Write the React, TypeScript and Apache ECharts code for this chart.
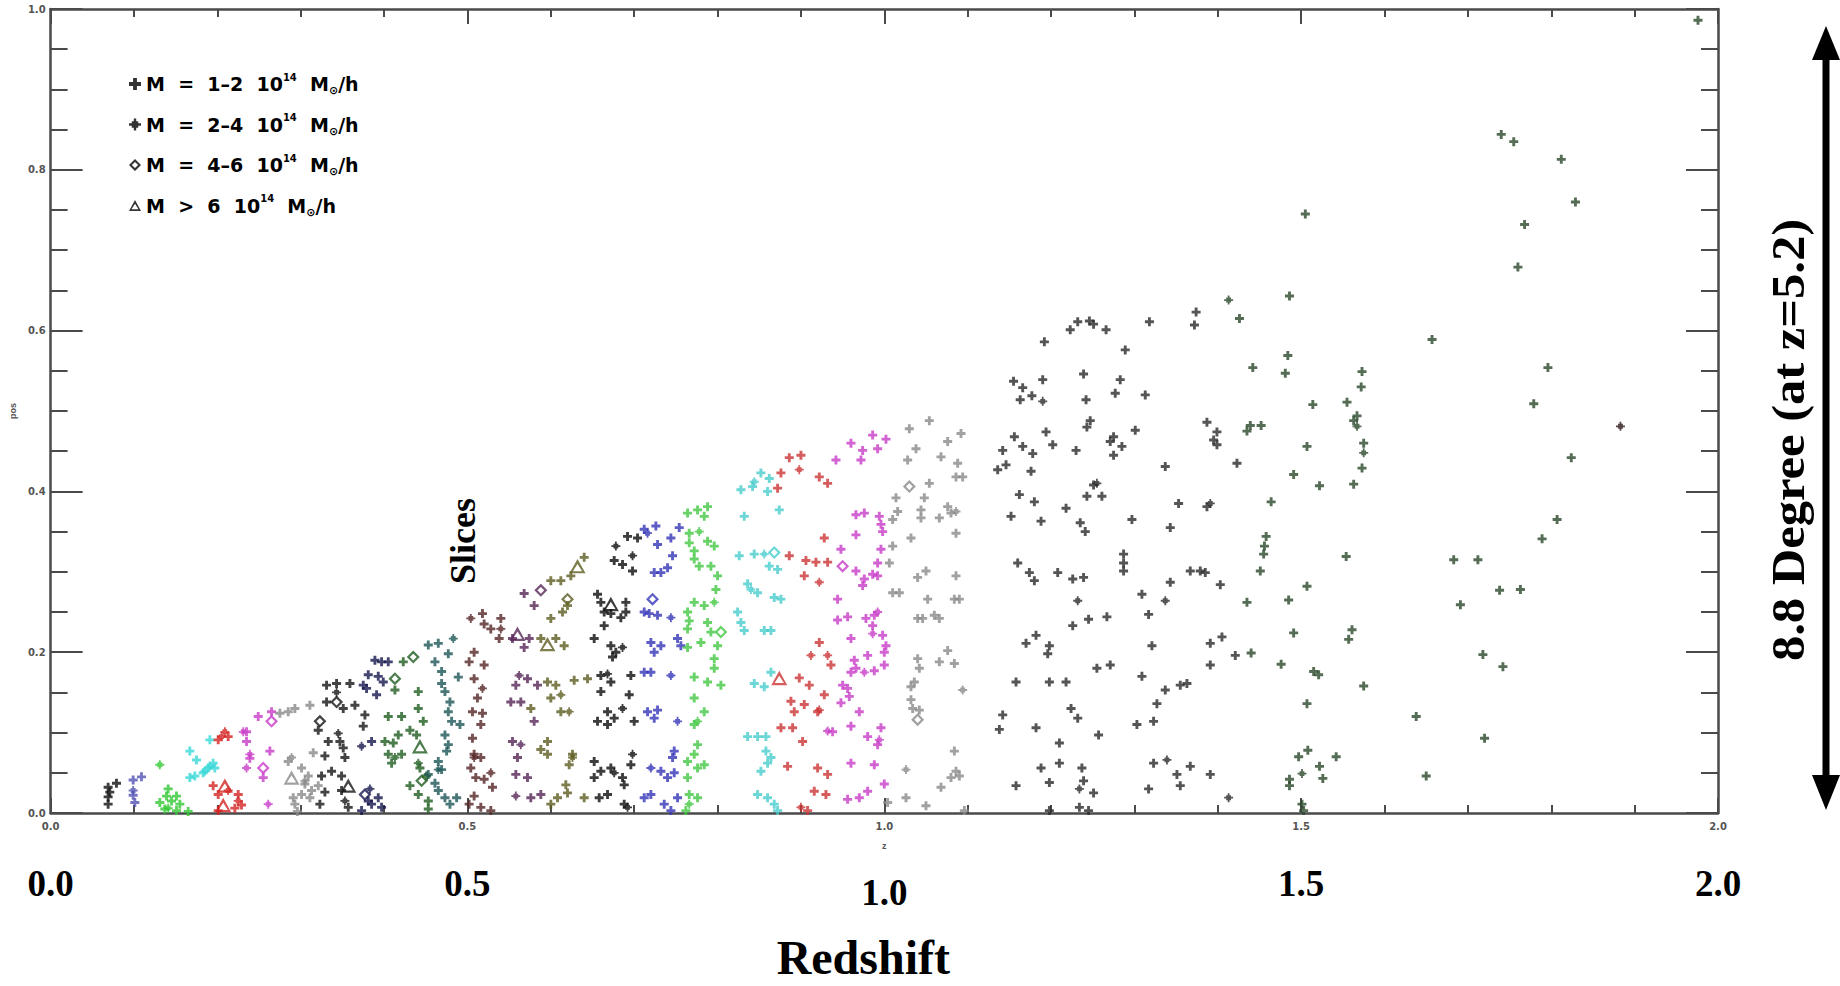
import React, { useEffect, useRef } from 'react';
import * as echarts from 'echarts';

// ---------- data ----------
const SLICE_COLORS = [
  '#101010', '#5252b4', '#33c833', '#3ad8d8', '#d42424', '#c83cc8', '#8a8a8a', '#151515',
  '#16164e', '#1f5c1f', '#1d5656', '#552626', '#562656', '#5c5c22', '#0c0c0c', '#3434b8',
  '#44c844', '#48cccc', '#cc3434', '#c83cc8', '#8a8a8a', '#2a2a2a', '#2a472a', '#2c1616',
];

const X_TICK_LABELS = ['0.0', '0.5', '1.0', '1.5', '2.0'];
const Y_TICK_LABELS = ['0.0', '0.2', '0.4', '0.6', '0.8', '1.0'];

const MASS_CLASSES = [
  'M = 1-2 10^14 M⊙/h',
  'M = 2-4 10^14 M⊙/h',
  'M = 4-6 10^14 M⊙/h',
  'M > 6 10^14 M⊙/h',
];
const MASS_LABELS = [
  'M  =  1–2  10{sup|14}  M{sub|⊙}/h',
  'M  =  2–4  10{sup|14}  M{sub|⊙}/h',
  'M  =  4–6  10{sup|14}  M{sub|⊙}/h',
  'M  >  6  10{sup|14}  M{sub|⊙}/h',
];

// plus markers (M = 1-2), one array per redshift slice: [z, pos]
const s00 = [[0.069,0.032],[0.079,0.037],[0.069,0.020],[0.069,0.011],[0.071,0.026]];
const s01 = [[0.099,0.041],[0.109,0.045],[0.099,0.022],[0.101,0.013]];
const s02 = [[0.141,0.030],[0.151,0.021],[0.139,0.021],[0.131,0.013],[0.137,0.005],[0.151,0.003],[0.155,0.011],[0.145,0.015],[0.165,0.002]];
const s03 = [[0.167,0.077],[0.175,0.066],[0.191,0.091],[0.195,0.062],[0.189,0.056],[0.183,0.050],[0.173,0.046],[0.167,0.044],[0.197,0.056]];
const s04 = [[0.201,0.091],[0.213,0.095],[0.201,0.023],[0.225,0.023],[0.221,0.006],[0.201,0.003],[0.229,0.010],[0.195,0.034]];
const s05 = [[0.235,0.089],[0.263,0.077],[0.249,0.120],[0.265,0.126],[0.255,0.044],[0.239,0.068],[0.235,0.101]];
const s06 = [[0.275,0.124],[0.285,0.126],[0.293,0.130],[0.311,0.134],[0.285,0.064],[0.301,0.056],[0.309,0.046],[0.305,0.036],[0.313,0.028],[0.311,0.019],[0.291,0.019],[0.293,0.011],[0.301,0.023],[0.315,0.075],[0.321,0.034],[0.296,0.002]];
const s07 = [[0.331,0.159],[0.343,0.161],[0.359,0.161],[0.331,0.138],[0.351,0.130],[0.321,0.103],[0.347,0.089],[0.351,0.081],[0.353,0.069],[0.333,0.089],[0.337,0.052],[0.329,0.071],[0.325,0.046],[0.349,0.028],[0.329,0.026],[0.323,0.011],[0.365,0.134],[0.377,0.122],[0.375,0.108],[0.349,0.046],[0.357,0.007]];
const s08 = [[0.389,0.190],[0.397,0.188],[0.405,0.188],[0.381,0.172],[0.393,0.170],[0.391,0.147],[0.375,0.159],[0.379,0.155],[0.385,0.089],[0.381,0.015],[0.393,0.019],[0.397,0.007],[0.385,0.011],[0.373,0.003],[0.399,0.163]];
const s09 = [[0.423,0.188],[0.441,0.151],[0.413,0.153],[0.405,0.120],[0.421,0.120],[0.401,0.089],[0.411,0.087],[0.417,0.097],[0.431,0.103],[0.451,0.046],[0.443,0.056],[0.405,0.073],[0.409,0.062],[0.421,0.073],[0.431,0.034],[0.441,0.023],[0.453,0.005],[0.453,0.015],[0.441,0.130],[0.447,0.114],[0.439,0.097]];
const s10 = [[0.453,0.209],[0.465,0.211],[0.477,0.198],[0.461,0.188],[0.469,0.176],[0.469,0.161],[0.473,0.151],[0.479,0.138],[0.477,0.126],[0.481,0.114],[0.473,0.097],[0.477,0.085],[0.475,0.077],[0.465,0.064],[0.469,0.054],[0.453,0.048],[0.461,0.037],[0.465,0.028],[0.473,0.019],[0.479,0.011],[0.487,0.019],[0.489,0.169],[0.491,0.110]];
const s11 = [[0.518,0.248],[0.520,0.235],[0.528,0.229],[0.540,0.242],[0.538,0.217],[0.508,0.200],[0.502,0.188],[0.520,0.184],[0.508,0.167],[0.512,0.143],[0.506,0.126],[0.518,0.124],[0.516,0.110],[0.506,0.093],[0.508,0.073],[0.516,0.069],[0.504,0.056],[0.510,0.044],[0.520,0.042],[0.530,0.032],[0.508,0.021],[0.502,0.011],[0.516,0.007],[0.528,0.003]];
const s12 = [[0.568,0.273],[0.554,0.217],[0.568,0.206],[0.572,0.167],[0.558,0.159],[0.552,0.138],[0.564,0.138],[0.554,0.089],[0.560,0.069],[0.580,0.114],[0.576,0.019],[0.588,0.023],[0.572,0.044],[0.558,0.048],[0.584,0.159],[0.580,0.258],[0.574,0.217]];
const s13 = [[0.600,0.289],[0.612,0.289],[0.624,0.295],[0.640,0.318],[0.620,0.258],[0.614,0.250],[0.600,0.242],[0.606,0.217],[0.588,0.217],[0.616,0.208],[0.596,0.163],[0.606,0.159],[0.600,0.143],[0.612,0.126],[0.596,0.089],[0.588,0.079],[0.596,0.073],[0.626,0.073],[0.622,0.060],[0.618,0.035],[0.620,0.025],[0.600,0.011],[0.608,0.019],[0.640,0.019],[0.644,0.167],[0.628,0.165],[0.576,0.130]];
const s14 = [[0.692,0.344],[0.704,0.342],[0.676,0.314],[0.698,0.301],[0.686,0.309],[0.656,0.272],[0.660,0.262],[0.664,0.250],[0.672,0.248],[0.684,0.243],[0.690,0.262],[0.690,0.250],[0.664,0.233],[0.652,0.217],[0.672,0.208],[0.678,0.200],[0.674,0.194],[0.660,0.171],[0.660,0.151],[0.672,0.163],[0.696,0.171],[0.668,0.126],[0.676,0.118],[0.668,0.110],[0.700,0.114],[0.694,0.147],[0.656,0.114],[0.652,0.064],[0.660,0.052],[0.652,0.044],[0.672,0.056],[0.686,0.044],[0.688,0.035],[0.696,0.060],[0.688,0.011],[0.668,0.023],[0.658,0.019]];
const s15 = [[0.712,0.353],[0.726,0.357],[0.728,0.334],[0.744,0.342],[0.754,0.355],[0.746,0.320],[0.740,0.305],[0.732,0.299],[0.724,0.299],[0.712,0.250],[0.718,0.248],[0.728,0.246],[0.720,0.212],[0.732,0.208],[0.752,0.217],[0.712,0.175],[0.720,0.175],[0.716,0.126],[0.724,0.118],[0.728,0.128],[0.748,0.077],[0.746,0.069],[0.732,0.052],[0.740,0.044],[0.748,0.050],[0.720,0.023],[0.712,0.019],[0.736,0.011],[0.744,0.003],[0.752,0.019],[0.724,0.200],[0.756,0.208]];
const s16 = [[0.764,0.373],[0.776,0.377],[0.788,0.381],[0.784,0.369],[0.766,0.348],[0.788,0.338],[0.796,0.332],[0.772,0.326],[0.766,0.336],[0.772,0.316],[0.778,0.307],[0.792,0.307],[0.800,0.295],[0.798,0.278],[0.784,0.258],[0.772,0.262],[0.764,0.250],[0.766,0.239],[0.764,0.229],[0.788,0.237],[0.792,0.225],[0.780,0.212],[0.764,0.206],[0.800,0.208],[0.796,0.192],[0.796,0.180],[0.804,0.159],[0.788,0.163],[0.772,0.169],[0.772,0.143],[0.784,0.126],[0.772,0.110],[0.776,0.085],[0.772,0.073],[0.764,0.064],[0.776,0.056],[0.764,0.044],[0.784,0.060],[0.766,0.023],[0.762,0.003],[0.776,0.019]];
const s17 = [[0.852,0.423],[0.862,0.416],[0.828,0.402],[0.842,0.406],[0.860,0.400],[0.832,0.369],[0.874,0.377],[0.826,0.320],[0.844,0.322],[0.862,0.307],[0.872,0.303],[0.836,0.285],[0.848,0.274],[0.868,0.268],[0.876,0.266],[0.824,0.250],[0.828,0.237],[0.832,0.227],[0.856,0.227],[0.864,0.227],[0.844,0.161],[0.856,0.157],[0.864,0.175],[0.836,0.095],[0.848,0.095],[0.858,0.095],[0.864,0.069],[0.860,0.062],[0.852,0.052],[0.848,0.023],[0.860,0.019],[0.868,0.011],[0.872,0.003],[0.858,0.077]];
const s18 = [[0.876,0.423],[0.922,0.418],[0.932,0.410],[0.872,0.404],[0.886,0.320],[0.906,0.314],[0.918,0.312],[0.932,0.312],[0.904,0.295],[0.928,0.342],[0.936,0.184],[0.922,0.212],[0.898,0.168],[0.910,0.159],[0.928,0.147],[0.888,0.139],[0.904,0.135],[0.920,0.126],[0.892,0.126],[0.876,0.106],[0.890,0.106],[0.902,0.089],[0.920,0.056],[0.932,0.048],[0.884,0.058],[0.908,0.003],[0.930,0.023],[0.916,0.027],[0.886,0.442],[0.900,0.445]];
const s19 = [[0.986,0.470],[1.002,0.465],[0.974,0.451],[0.992,0.453],[0.972,0.439],[0.966,0.371],[0.976,0.373],[0.994,0.369],[0.996,0.359],[0.998,0.350],[0.966,0.346],[0.948,0.328],[0.996,0.328],[0.992,0.311],[0.966,0.301],[0.976,0.291],[0.986,0.297],[0.992,0.295],[0.974,0.283],[0.944,0.266],[0.944,0.240],[0.956,0.244],[0.978,0.242],[0.988,0.246],[0.986,0.233],[0.998,0.221],[1.002,0.208],[0.960,0.217],[1.000,0.200],[0.980,0.196],[0.964,0.190],[0.966,0.180],[0.960,0.175],[0.988,0.177],[1.000,0.184],[0.950,0.159],[0.956,0.155],[0.948,0.137],[0.958,0.145],[0.970,0.126],[0.960,0.108],[0.996,0.106],[0.980,0.095],[0.992,0.085],[0.938,0.101],[0.960,0.062],[0.988,0.060],[1.000,0.036],[0.980,0.027],[0.970,0.019],[0.956,0.017],[0.942,0.439],[0.960,0.460]];
const s20 = [[1.030,0.478],[1.054,0.488],[1.038,0.453],[1.028,0.439],[1.014,0.392],[1.048,0.392],[1.016,0.375],[1.044,0.377],[1.054,0.410],[1.076,0.462],[1.092,0.472],[1.068,0.443],[1.088,0.435],[1.086,0.418],[1.094,0.418],[1.010,0.365],[1.044,0.367],[1.066,0.367],[1.076,0.381],[1.080,0.373],[1.032,0.342],[1.086,0.348],[1.010,0.332],[1.006,0.311],[1.050,0.301],[1.040,0.293],[1.086,0.295],[1.010,0.274],[1.018,0.274],[1.052,0.266],[1.084,0.266],[1.090,0.266],[1.040,0.242],[1.046,0.242],[1.060,0.246],[1.066,0.242],[1.040,0.192],[1.042,0.180],[1.066,0.188],[1.076,0.202],[1.084,0.186],[1.036,0.163],[1.032,0.157],[1.032,0.141],[1.034,0.130],[1.042,0.128],[1.084,0.077],[1.080,0.044],[1.086,0.052],[1.090,0.046],[1.068,0.032],[1.026,0.019],[1.050,0.009],[1.004,0.013],[1.096,0.003]];
const s21 = [[1.156,0.468],[1.166,0.456],[1.178,0.447],[1.194,0.474],[1.202,0.458],[1.142,0.451],[1.146,0.433],[1.136,0.427],[1.176,0.425],[1.230,0.451],[1.243,0.480],[1.247,0.488],[1.275,0.468],[1.271,0.462],[1.285,0.456],[1.275,0.445],[1.301,0.476],[1.387,0.486],[1.399,0.474],[1.395,0.464],[1.399,0.458],[1.423,0.435],[1.337,0.431],[1.162,0.396],[1.180,0.387],[1.152,0.369],[1.188,0.363],[1.218,0.379],[1.235,0.361],[1.241,0.350],[1.251,0.408],[1.243,0.394],[1.261,0.394],[1.297,0.365],[1.353,0.385],[1.387,0.381],[1.343,0.355],[1.160,0.311],[1.174,0.299],[1.180,0.289],[1.208,0.299],[1.226,0.291],[1.239,0.293],[1.287,0.322],[1.287,0.311],[1.287,0.301],[1.309,0.272],[1.343,0.287],[1.317,0.247],[1.367,0.301],[1.379,0.301],[1.385,0.299],[1.403,0.284],[1.170,0.211],[1.182,0.221],[1.198,0.208],[1.196,0.198],[1.226,0.233],[1.245,0.241],[1.267,0.244],[1.321,0.208],[1.391,0.211],[1.405,0.219],[1.421,0.196],[1.255,0.180],[1.271,0.184],[1.309,0.170],[1.337,0.153],[1.355,0.159],[1.363,0.161],[1.391,0.184],[1.158,0.163],[1.198,0.163],[1.218,0.163],[1.142,0.122],[1.138,0.104],[1.182,0.106],[1.224,0.130],[1.232,0.118],[1.257,0.097],[1.210,0.087],[1.303,0.110],[1.323,0.114],[1.327,0.136],[1.188,0.056],[1.210,0.062],[1.237,0.056],[1.323,0.062],[1.367,0.058],[1.351,0.048],[1.391,0.048],[1.158,0.034],[1.198,0.038],[1.239,0.040],[1.251,0.025],[1.317,0.030],[1.355,0.034],[1.234,0.007],[1.245,0.003],[1.198,0.003],[1.374,0.623],[1.372,0.607],[1.318,0.611],[1.232,0.611],[1.246,0.612],[1.251,0.608],[1.266,0.601],[1.223,0.601],[1.192,0.586],[1.289,0.576],[1.239,0.546],[1.283,0.539],[1.277,0.522],[1.313,0.520],[1.155,0.537],[1.166,0.529],[1.190,0.539],[1.163,0.514],[1.177,0.519],[1.242,0.514]];
const s22 = [[1.976,0.986],[1.740,0.844],[1.755,0.835],[1.812,0.813],[1.829,0.760],[1.768,0.732],[1.760,0.679],[1.505,0.745],[1.486,0.643],[1.426,0.615],[1.657,0.589],[1.484,0.569],[1.442,0.554],[1.481,0.547],[1.573,0.549],[1.572,0.530],[1.514,0.508],[1.555,0.511],[1.567,0.494],[1.796,0.554],[1.779,0.509],[1.563,0.488],[1.439,0.482],[1.452,0.482],[1.435,0.475],[1.507,0.456],[1.575,0.460],[1.573,0.429],[1.563,0.409],[1.491,0.421],[1.522,0.407],[1.824,0.442],[1.464,0.387],[1.807,0.365],[1.789,0.341],[1.458,0.344],[1.456,0.332],[1.455,0.322],[1.451,0.301],[1.554,0.319],[1.683,0.315],[1.712,0.315],[1.507,0.282],[1.485,0.265],[1.435,0.262],[1.738,0.277],[1.763,0.278],[1.691,0.259],[1.491,0.224],[1.561,0.228],[1.557,0.216],[1.440,0.199],[1.476,0.185],[1.515,0.176],[1.521,0.172],[1.575,0.158],[1.718,0.197],[1.742,0.182],[1.507,0.136],[1.638,0.120],[1.720,0.093],[1.497,0.070],[1.508,0.078],[1.542,0.070],[1.522,0.058],[1.486,0.042],[1.526,0.043],[1.486,0.034],[1.650,0.046],[1.501,0.011],[1.503,0.003]];

const PLUS_BY_SLICE = [s00, s01, s02, s03, s04, s05, s06, s07, s08, s09, s10, s11, s12, s13, s14, s15, s16, s17, s18, s19, s20, s21, s22];

// asterisks (M = 2-4): [z, pos, slice]
const asteriskPoints = [
  [0.099,0.028,1],[0.131,0.060,2],[0.141,0.006,2],[0.191,0.058,3],[0.185,0.052,3],
  [0.209,0.101,4],[0.205,0.095,4],[0.213,0.028,4],[0.225,0.015,4],
  [0.231,0.101,5],[0.239,0.073,5],[0.235,0.056,5],[0.261,0.011,5],
  [0.289,0.069,6],[0.305,0.040,6],[0.343,0.150,7],[0.345,0.099,7],[0.353,0.015,7],
  [0.373,0.083,8],[0.383,0.030,8],[0.413,0.069,9],[0.441,0.062,9],
  [0.483,0.217,10],[0.465,0.054,10],
  [0.504,0.242,11],[0.518,0.155,11],[0.528,0.050,11],[0.508,0.069,11],[0.540,0.229,11],
  [0.558,0.021,12],[0.562,0.171,12],[0.564,0.085,12],
  [0.622,0.126,13],[0.626,0.069,13],[0.612,0.147,13],
  [0.678,0.332,14],[0.698,0.320,14],[0.686,0.206,14],[0.668,0.173,14],[0.698,0.073,14],[0.676,0.050,14],[0.692,0.007,14],[0.686,0.130,14],
  [0.752,0.114,15],[0.744,0.171,15],[0.716,0.348,15],[0.720,0.056,15],[0.744,0.243,15],
  [0.776,0.114,16],[0.778,0.350,16],[0.766,0.011,16],[0.796,0.262,16],
  [0.844,0.412,17],[0.856,0.322,17],[0.840,0.278,17],
  [0.898,0.427,18],[0.922,0.287,18],[0.912,0.196,18],[0.932,0.196,18],[0.922,0.128,18],[0.900,0.007,18],
  [0.932,0.102,19],[0.992,0.250,19],[0.994,0.091,19],[0.986,0.223,19],[0.976,0.175,19],
  [1.094,0.153,20],[1.026,0.054,20],[1.086,0.375,20],
  [1.190,0.512,21],[1.337,0.264,21],[1.255,0.410,21],[1.391,0.385,21],[1.232,0.264,21],[1.339,0.066,21],[1.234,0.030,21],[1.413,0.019,21],
  [1.413,0.638,22],[1.575,0.448,22],[1.501,0.049,22],[1.567,0.481,22],
  [1.883,0.481,23],
];

// diamonds (M = 4-6): [z, pos, slice]
const diamondPoints = [
  [0.255,0.056,5],[0.265,0.114,5],[0.323,0.114,7],[0.343,0.138,7],[0.377,0.023,8],
  [0.413,0.167,9],[0.435,0.194,9],[0.445,0.040,9],[0.588,0.277,12],[0.620,0.266,13],
  [0.722,0.266,15],[0.804,0.225,16],[0.868,0.324,17],[0.950,0.307,19],[1.030,0.406,20],[1.040,0.116,20],
];

// triangles (M > 6): [z, pos, slice]
const trianglePoints = [
  [0.209,0.034,4],[0.207,0.010,4],[0.289,0.044,6],[0.357,0.034,7],[0.443,0.083,9],
  [0.560,0.223,12],[0.596,0.210,13],[0.632,0.307,13],[0.672,0.260,14],[0.874,0.168,18],
];

// ---------- symbols ----------
const SYM_PLUS = 'path://M3.4,0H6.6V3.4H10V6.6H6.6V10H3.4V6.6H0V3.4H3.4Z';
const SYM_AST = 'path://M2.3,2.3H7.7V7.7H2.3Z M4,0H6V10H4Z M0,4H10V6H0Z';
const SYM_DIA = 'path://M5,0L10,5L5,10L0,5Z M5,2.4L2.4,5L5,7.6L7.6,5Z';
const SYM_TRI = 'path://M5,0L10,9L0,9Z M5,3.1L2.1,7.6L7.9,7.6Z';

const AX = '#4a4a4a';

function buildPlus() {
  const out: any[] = [];
  PLUS_BY_SLICE.forEach((arr, s) => {
    arr.forEach((p) => out.push({ value: [p[0], p[1]], itemStyle: { color: SLICE_COLORS[s] } }));
  });
  return out;
}
function buildTagged(list: number[][]) {
  return list.map((p) => ({ value: [p[0], p[1]], itemStyle: { color: SLICE_COLORS[p[2]] } }));
}

function baseX(extra: any) {
  return {
    type: 'value', min: 0, max: 2, interval: 0.5,
    axisLine: { show: true, onZero: false, lineStyle: { color: AX, width: 2.5 } },
    axisTick: { show: true, inside: true, length: 15, lineStyle: { color: AX, width: 2 } },
    minorTick: { show: true, splitNumber: 5, length: 8, lineStyle: { color: AX, width: 2 } },
    splitLine: { show: false }, minorSplitLine: { show: false },
    ...extra,
  };
}
function baseY(extra: any) {
  return {
    type: 'value', min: 0, max: 1, interval: 0.2,
    axisLine: { show: true, onZero: false, lineStyle: { color: AX, width: 2.5 } },
    axisTick: { show: true, inside: true, length: 32, lineStyle: { color: AX, width: 2 } },
    minorTick: { show: true, splitNumber: 4, length: 17, lineStyle: { color: AX, width: 2 } },
    splitLine: { show: false }, minorSplitLine: { show: false },
    ...extra,
  };
}

const serif = 'Liberation Serif';
const small = { fontSize: 10, color: '#555', fontWeight: 'bold', fontFamily: 'DejaVu Sans' };

function buildOption() {
  const legendFont = { fontFamily: 'DejaVu Sans', fontWeight: 'bold', color: '#000' };
  return {
    animation: false,
    backgroundColor: '#fff',
    grid: { left: 49, top: 9, width: 1669, height: 810, containLabel: false },
    legend: {
      orient: 'vertical', left: 124, top: 67, itemGap: 16.5, itemWidth: 12, itemHeight: 12,
      selectedMode: false,
      data: MASS_CLASSES.map((n) => ({ name: n, itemStyle: { color: '#000', borderWidth: 0 } })),
      formatter: (name: string) => MASS_LABELS[MASS_CLASSES.indexOf(name)],
      textStyle: {
        ...legendFont, fontSize: 19, lineHeight: 24,
        rich: {
          sup: { ...legendFont, fontSize: 10, lineHeight: 12, verticalAlign: 'top' },
          sub: { ...legendFont, fontSize: 11, lineHeight: 12, verticalAlign: 'bottom' },
        },
      },
    },
    xAxis: [
      baseX({
        position: 'bottom',
        axisLabel: { ...small, margin: 8, formatter: (v: number) => X_TICK_LABELS[Math.round(v * 2)] },
        name: 'z', nameLocation: 'middle', nameGap: 28, nameTextStyle: { fontSize: 9, color: '#555', fontWeight: 'bold' },
      }),
      baseX({ position: 'top', axisLabel: { show: false } }),
      {
        type: 'value', min: 0, max: 2, interval: 0.5, position: 'bottom', offset: 52,
        axisLine: { show: false }, axisTick: { show: false }, splitLine: { show: false },
        axisLabel: {
          fontSize: 37, fontWeight: 'bold', fontFamily: serif, color: '#000', margin: 0,
          formatter: (v: number) => (v === 1 ? '{low|' + X_TICK_LABELS[2] + '}' : X_TICK_LABELS[Math.round(v * 2)]),
          rich: { low: { fontSize: 37, fontWeight: 'bold', fontFamily: serif, color: '#000', padding: [9, 0, 0, 0] } },
        },
        name: 'Redshift', nameLocation: 'middle', nameGap: 68,
        nameTextStyle: { fontSize: 48, fontWeight: 'bold', fontFamily: serif, color: '#000', padding: [0, 42, 0, 0] },
      },
    ],
    yAxis: [
      baseY({
        position: 'left',
        axisLabel: { ...small, margin: 5, formatter: (v: number) => Y_TICK_LABELS[Math.round(v * 5)] },
        name: 'pos', nameLocation: 'middle', nameGap: 30, nameTextStyle: { fontSize: 9, color: '#555', fontWeight: 'bold' },
      }),
      baseY({ position: 'right', axisLabel: { show: false } }),
    ],
    series: [
      { name: MASS_CLASSES[0], type: 'scatter', symbol: SYM_PLUS, symbolSize: 9, itemStyle: { color: '#000' }, data: buildPlus(), silent: true, z: 2 },
      { name: MASS_CLASSES[1], type: 'scatter', symbol: SYM_AST, symbolSize: 9, itemStyle: { color: '#000' }, data: buildTagged(asteriskPoints), silent: true, z: 3 },
      { name: MASS_CLASSES[2], type: 'scatter', symbol: SYM_DIA, symbolSize: 13, itemStyle: { color: '#000' }, data: buildTagged(diamondPoints), silent: true, z: 4 },
      { name: MASS_CLASSES[3], type: 'scatter', symbol: SYM_TRI, symbolSize: [16, 14.4], itemStyle: { color: '#000' }, data: buildTagged(trianglePoints), silent: true, z: 5 },
    ],
    graphic: [
      {
        type: 'text', x: 463, y: 541, rotation: Math.PI / 2, silent: true,
        style: { text: 'Slices', fontSize: 36, fontWeight: 'bold', fontFamily: serif, fill: '#000', align: 'center', verticalAlign: 'middle' },
      },
      {
        type: 'text', x: 1788, y: 440, rotation: Math.PI / 2, scaleX: 1.1, silent: true,
        style: { text: '8.8 Degree (at z=5.2)', fontSize: 46, fontWeight: 'bold', fontFamily: serif, fill: '#000', align: 'center', verticalAlign: 'middle' },
      },
      { type: 'line', silent: true, shape: { x1: 1826, y1: 50, x2: 1826, y2: 785 }, style: { stroke: '#000', lineWidth: 7 } },
      { type: 'polygon', silent: true, shape: { points: [[1826, 26], [1840, 60], [1812, 60]] }, style: { fill: '#000' } },
      { type: 'polygon', silent: true, shape: { points: [[1826, 810], [1840, 775], [1812, 775]] }, style: { fill: '#000' } },
    ],
  };
}

export default function App() {
  const ref = useRef<HTMLDivElement>(null);
  useEffect(() => {
    if (!ref.current) return;
    const chart = echarts.init(ref.current, null, { renderer: 'svg' });
    chart.setOption(buildOption() as any);
    return () => chart.dispose();
  }, []);
  return (
    <div
      ref={ref}
      style={{ position: 'fixed', left: 0, top: 0, width: 1840, height: 986, background: '#fff' }}
    />
  );
}
